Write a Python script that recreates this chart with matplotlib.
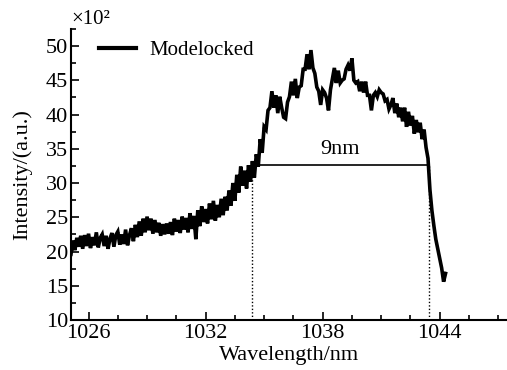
import numpy as np
import matplotlib
matplotlib.use("Agg")
import matplotlib.pyplot as plt
from matplotlib.ticker import MultipleLocator

# spectrum, 0.1 nm steps from 1025.1 nm (units of 10^2)
wl_start = 1025.1
wl_step = 0.1
intensity = [
    19.6, 21.6, 20.2, 22.0, 20.7, 22.3, 20.4, 22.4, 20.8, 22.6,
    20.5, 22.1, 20.9, 22.8, 20.6, 22.0, 22.5, 20.8, 22.3, 20.4,
    21.9, 22.7, 20.7, 22.4, 22.9, 21.0, 22.5, 21.1, 23.2, 20.9,
    22.4, 23.4, 21.5, 23.9, 22.1, 24.4, 22.3, 24.8, 22.8, 25.1,
    23.1, 24.8, 22.6, 24.6, 22.8, 24.2, 22.3, 24.0, 22.5, 24.1,
    22.6, 24.3, 22.4, 24.8, 22.9, 24.6, 22.7, 25.1, 23.2, 24.9,
    22.8, 25.6, 23.3, 25.2, 21.8, 26.0, 23.7, 26.6, 24.3, 26.2,
    24.1, 27.0, 24.7, 27.4, 24.5, 26.8, 25.0, 27.7, 25.3, 28.0,
    26.0, 28.9, 26.7, 30.0, 27.4, 31.2, 28.6, 32.4, 29.6, 31.8,
    29.2, 32.6, 30.2, 33.2, 30.8, 34.2, 32.4, 36.4, 34.4, 38.2,
    37.8, 40.6, 41.0, 43.4, 41.0, 42.8, 40.2, 42.6, 41.0, 39.6,
    39.4, 41.8, 42.6, 44.8, 42.8, 45.2, 42.4, 44.0, 44.2, 46.6,
    46.6, 48.8, 46.6, 49.4, 46.8, 46.0, 44.0, 43.4, 41.4, 43.6,
    43.2, 42.4, 40.6, 43.6, 45.2, 46.8, 44.6, 46.4, 44.6, 45.0,
    45.2, 46.6, 47.2, 46.4, 48.2, 45.0, 44.6, 44.8, 43.4, 44.8,
    43.2, 44.8, 42.8, 42.8, 40.6, 42.8, 43.2, 42.6, 43.6, 43.2,
    43.0, 42.0, 42.2, 40.8, 41.4, 42.4, 40.2, 41.6, 39.6, 41.0,
    39.0, 41.0, 38.2, 40.4, 38.4, 39.8, 37.2, 39.2, 37.4, 38.8,
    36.4, 37.8, 35.2, 33.6, 29.0,
    26.0, 23.8, 21.8, 20.4, 19.0, 17.6, 15.6, 16.8,
]
wavelength = wl_start + wl_step * np.arange(len(intensity))

# FWHM marker
fwhm_left = 1034.36
fwhm_right = 1043.44
fwhm_level = 32.6
fwhm_label = "9nm"

plt.rcParams.update({
    "font.family": ["Liberation Serif", "DejaVu Serif"],
    "font.size": 16,
})

fig = plt.figure(figsize=(5.07, 3.70), dpi=100)
ax = fig.add_axes([0.140, 0.135, 0.860, 0.787])

ax.plot(wavelength, intensity, color="black", linewidth=2.6,
        solid_joinstyle="miter", label="Modelocked")
ax.vlines([fwhm_left, fwhm_right], 10, fwhm_level, colors="black",
          linestyles=(0, (1, 1.5)), linewidth=1.0)
ax.hlines(fwhm_level, fwhm_left, fwhm_right, colors="black", linewidth=1.2)
ax.text((fwhm_left + fwhm_right) / 2, fwhm_level + 0.9, fwhm_label,
        ha="center", va="bottom")

ax.set_xlim(1025.1, 1047.45)
ax.set_ylim(10, 52.5)
ax.xaxis.set_major_locator(MultipleLocator(6))
ax.xaxis.set_minor_locator(MultipleLocator(1.5))
ax.yaxis.set_major_locator(MultipleLocator(5))
ax.yaxis.set_minor_locator(MultipleLocator(2.5))
ax.tick_params(which="both", direction="in", top=False, right=False, width=1.2)
ax.tick_params(which="major", length=6)
ax.tick_params(which="minor", length=3.5)
ax.tick_params(axis="x", which="major", pad=3)
ax.tick_params(axis="y", which="major", pad=2)
for side in ["top", "right"]:
    ax.spines[side].set_visible(False)
for side in ["left", "bottom"]:
    ax.spines[side].set_linewidth(1.5)

ax.set_xlabel("Wavelength/nm", labelpad=2)
ax.set_ylabel("Intensity/(a.u.)", labelpad=10)
ax.text(0.0, 1.0, "×10²", transform=ax.transAxes, ha="left", va="bottom",
        fontsize=15)

ax.legend(loc="upper left", bbox_to_anchor=(0.021, 1.024), frameon=False,
          fontsize=15, handlelength=1.8, handletextpad=0.6)
for line in ax.get_legend().get_lines():
    line.set_linewidth(3)

fig.savefig("out.png", dpi=100)
